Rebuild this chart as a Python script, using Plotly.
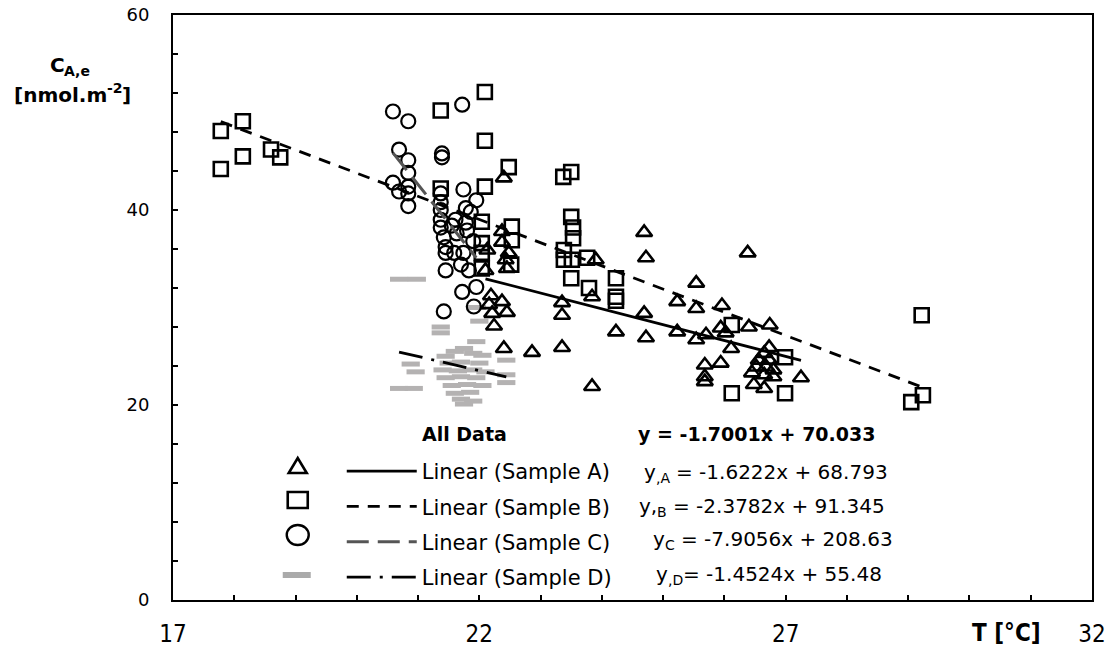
import plotly.graph_objects as go

# ---------------- data ----------------
A_x = [22.40, 22.37, 22.37, 22.13, 22.48, 22.45, 22.10, 22.43, 22.19, 22.37, 22.16, 22.45,
       22.21, 22.24, 22.40, 22.86, 23.35, 23.35, 23.35, 23.84, 23.90, 23.84, 24.23, 24.69,
       24.72, 24.69, 24.72, 25.54, 25.23, 25.54, 25.96, 25.23, 25.54, 25.70, 25.94, 26.02,
       26.40, 26.74, 26.38, 26.11, 25.94, 25.68, 25.68, 25.68, 26.73, 26.65, 26.56, 26.73,
       26.52, 26.68, 26.80, 26.45, 26.65, 26.80, 26.48, 26.65, 27.25]
A_y = [43.3, 37.8, 36.7, 35.9, 35.6, 34.0, 33.8, 34.9, 31.2, 30.6, 30.3, 29.5,
       29.4, 28.1, 25.8, 25.4, 25.9, 30.5, 29.2, 31.1, 34.9, 21.9, 27.5, 37.7,
       35.1, 29.4, 26.9, 32.5, 30.6, 29.9, 30.2, 27.5, 26.7, 27.2, 27.9, 27.4,
       28.0, 28.2, 35.6, 25.8, 24.3, 24.1, 22.9, 22.4, 25.9, 25.3, 24.6, 24.6,
       23.9, 23.9, 23.6, 23.3, 23.1, 22.9, 22.1, 21.7, 22.8]

B_x = [17.78, 18.14, 18.14, 17.78, 18.60, 18.75, 21.37, 22.09, 22.09, 22.48, 22.09, 21.37,
       23.37, 23.50, 23.50, 23.53, 23.53, 23.38, 23.38, 23.51, 23.76, 23.50, 23.79, 24.23,
       24.23, 24.23, 22.04, 22.53, 22.53, 22.04, 22.04, 22.52, 22.04, 26.12, 26.99, 26.12,
       26.99, 29.22, 29.24, 29.05]
B_y = [48.1, 49.1, 45.5, 44.2, 46.2, 45.4, 50.2, 52.1, 47.1, 44.4, 42.4, 42.2,
       43.4, 43.9, 39.3, 38.2, 37.1, 35.9, 34.9, 34.9, 35.1, 33.0, 32.0, 33.0,
       31.1, 30.7, 38.8, 38.3, 36.9, 36.6, 35.6, 34.4, 34.0, 28.2, 24.9, 21.2,
       21.2, 29.2, 21.0, 20.3]

C_x = [20.59, 20.84, 21.72, 20.69, 20.84, 20.84, 21.39, 21.39, 20.59, 20.69, 20.84, 20.84,
       20.84, 21.74, 21.37, 21.37, 21.37, 21.37, 21.37, 21.42, 21.45, 21.61, 21.78, 21.95,
       21.86, 21.78, 21.63, 21.80, 21.59, 21.74, 21.45, 21.45, 21.70, 21.42, 21.72, 21.91,
       21.95, 21.83, 21.90, 21.55]
C_y = [50.1, 49.1, 50.8, 46.2, 45.1, 43.8, 45.8, 45.4, 42.8, 41.9, 42.4, 41.7,
       40.4, 42.1, 41.7, 40.8, 40.0, 39.0, 38.2, 37.2, 36.2, 39.0, 40.2, 41.0,
       39.8, 38.7, 37.6, 37.9, 35.6, 35.6, 35.6, 33.8, 34.4, 29.6, 31.6, 30.1,
       32.1, 33.8, 36.8, 38.4]

D_x = [20.69, 20.98, 21.37, 21.37, 21.96, 22.00, 21.95, 21.75, 21.45, 21.60, 21.90, 22.05,
       20.88, 20.96, 20.69, 20.93, 22.44, 22.44, 22.44, 21.50, 21.70, 22.00, 21.40, 21.65,
       21.90, 22.10, 21.45, 21.70, 21.95, 21.55, 21.80, 22.05, 21.60, 21.85, 21.70, 21.90,
       21.75]
D_y = [32.9, 32.9, 28.0, 27.4, 30.0, 28.6, 26.5, 25.8, 25.0, 25.5, 25.3, 25.1,
       24.2, 23.4, 21.7, 21.7, 24.6, 23.1, 22.3, 24.3, 24.4, 24.3, 23.6, 23.5,
       23.6, 23.4, 22.8, 22.9, 22.8, 22.0, 22.1, 22.0, 21.2, 21.3, 20.6, 20.4,
       20.1]

samples = ["A", "B", "C", "D"]
slopes = [-1.6222, -2.3782, -7.9056, -1.4524]
intercepts = [68.793, 91.345, 208.63, 55.48]
all_slope = -1.7001
all_intercept = 70.033

x_ticks = [17, 22, 27, 32]
y_ticks = [0, 20, 40, 60]

# ---------------- styles ----------------
GRAY_D = "#b4b2b2"
marker_styles = [
    dict(symbol="triangle-up-open", size=14, color="black", line=dict(width=2.6, color="black")),
    dict(symbol="square-open", size=14, color="black", line=dict(width=2.6, color="black")),
    dict(symbol="circle-open", size=14, color="black", line=dict(width=2.2, color="black")),
    dict(symbol="line-ew-open", size=13, color=GRAY_D, line=dict(width=5, color=GRAY_D)),
]
line_styles = [
    dict(color="black", width=2.8, dash="solid"),
    dict(color="black", width=2.8, dash="12px,9px"),
    dict(color="#555555", width=3, dash="22px,9px"),
    dict(color="black", width=2.8, dash="24px,9px,3px,9px"),
]

xs_all = [A_x, B_x, C_x, D_x]
ys_all = [A_y, B_y, C_y, D_y]
draw_order = [3, 2, 1, 0]

fig = go.Figure()

# data markers
for i in draw_order:
    fig.add_trace(go.Scatter(x=xs_all[i], y=ys_all[i], mode="markers",
                             marker=marker_styles[i], showlegend=False,
                             name="Sample " + samples[i]))

# trend lines (from the fitted equations, spanning each sample's x range)
for i in range(4):
    x0, x1 = min(xs_all[i]), max(xs_all[i])
    fig.add_trace(go.Scatter(x=[x0, x1],
                             y=[slopes[i] * x0 + intercepts[i], slopes[i] * x1 + intercepts[i]],
                             mode="lines", line=line_styles[i],
                             name="Linear (Sample " + samples[i] + ")",
                             legendgroup="l" + samples[i],
                             showlegend=True))

PW = 918.7
PH = 585.0
L0, T0 = 173.3, 15.0


def px(xp):
    return (xp - L0) / PW


def py(yp):
    return (T0 + PH - yp) / PH


FONT = "DejaVu Sans"
NARROW = "Liberation Sans Narrow, DejaVu Sans Condensed, sans-serif"

fig.update_layout(
    width=1110, height=652,
    margin=dict(l=173, r=18, t=15, b=52, autoexpand=False),
    plot_bgcolor="white", paper_bgcolor="white",
    font=dict(family=FONT, color="black"),
    showlegend=True,
    legend=dict(x=px(342), y=py(451), xanchor="left", yanchor="top",
                bgcolor="rgba(0,0,0,0)", font=dict(family=FONT, size=21, color="black"),
                tracegroupgap=5, itemwidth=70),
    xaxis=dict(range=[17, 32], tickvals=x_ticks, ticktext=[str(v) for v in x_ticks],
               ticks="inside", ticklen=5, tickwidth=1.5, tickcolor="black",
               showline=True, linecolor="black", linewidth=1.8, mirror=True,
               showgrid=False, zeroline=False, automargin=False,
               minor=dict(dtick=1, tick0=17, ticks="inside", ticklen=5, tickwidth=1.5,
                          tickcolor="black", showgrid=False),
               tickfont=dict(family=NARROW, size=24, color="black"),
               ticklabelstandoff=11),
    yaxis=dict(range=[0, 60], tickvals=y_ticks, ticktext=[str(v) for v in y_ticks],
               ticks="inside", ticklen=5, tickwidth=1.5, tickcolor="black",
               showline=True, linecolor="black", linewidth=1.8, mirror=True,
               showgrid=False, zeroline=False, automargin=False,
               minor=dict(dtick=4, tick0=0, ticks="inside", ticklen=5, tickwidth=1.5,
                          tickcolor="black", showgrid=False),
               tickfont=dict(family=FONT, size=18, color="black"),
               ticklabelstandoff=18),
)


def fmt(v, nd):
    return ("%." + str(nd) + "f") % v


# DejaVu Sans advance widths (em) for placing sub/superscript pieces side by side
W_REG = {" ": 0.318, ",": 0.318, ".": 0.318, "-": 0.361, "=": 0.838, "+": 0.838,
         "x": 0.592, "y": 0.592, "A": 0.684, "B": 0.686, "C": 0.698, "D": 0.770}
W_BOLD = {" ": 0.348, ",": 0.380, ".": 0.380, "-": 0.415, "A": 0.774, "C": 0.734,
          "e": 0.678, "n": 0.712, "m": 1.042, "o": 0.687, "l": 0.343, "[": 0.457,
          "]": 0.457}


def text_w(s, size, bold=False):
    table = W_BOLD if bold else W_REG
    dig = 0.696 if bold else 0.636
    return sum((dig if ch.isdigit() else table.get(ch, 0.6)) for ch in s) * size


annos = []


def piece(text, xl, yc, size, bold=False, family=FONT):
    annos.append(dict(text=("<b>" + text + "</b>") if bold else text,
                      x=px(xl), y=py(yc), xref="paper", yref="paper",
                      xanchor="left", yanchor="middle", showarrow=False, borderpad=0,
                      font=dict(family=family, size=size, color="black")))


def rich(parts, xl, yc, size, bold=False):
    """parts: list of (text, kind) with kind 'n', 'sub' or 'sup'."""
    x = xl
    for text, kind in parts:
        if kind == "n":
            lead = len(text) - len(text.lstrip(" "))
            x += text_w(" " * lead, size, bold)
            t = text.strip(" ")
            piece(t, x, yc, size, bold)
            x += text_w(t, size, bold)
            trail = len(text) - len(text.rstrip(" "))
            x += text_w(" " * trail, size, bold)
        else:
            s = round(size * 0.7)
            dy = 6 if kind == "sub" else -7
            piece(text, x, yc + dy, s, bold)
            x += text_w(text, s, bold)


piece("All Data", 421, 434, 19, bold=True)
piece("y = " + fmt(all_slope, 4) + "x + " + fmt(all_intercept, 3), 637, 434, 19, bold=True)

eq_parts = [
    [("y", "n"), (",A", "sub"), (" = " + fmt(slopes[0], 4) + "x + " + fmt(intercepts[0], 3), "n")],
    [("y,", "n"), ("B", "sub"), (" = " + fmt(slopes[1], 4) + "x + " + fmt(intercepts[1], 3), "n")],
    [("y", "n"), ("C", "sub"), (" = " + fmt(slopes[2], 4) + "x + " + fmt(intercepts[2], 2), "n")],
    [("y", "n"), (",D", "sub"), ("= " + fmt(slopes[3], 4) + "x + " + fmt(intercepts[3], 2), "n")],
]
eq_pos = [(643, 472), (638, 506), (652, 539), (655, 574)]
for parts, (ex, ey) in zip(eq_parts, eq_pos):
    rich(parts, ex, ey, 20)

# y-axis title (two lines)
rich([("C", "n"), ("A,e", "sub")], 49, 65, 20, bold=True)
rich([("[nmol.m", "n"), ("-2", "sup"), ("]", "n")], 13, 95, 20, bold=True)

# x-axis title
annos.append(dict(text="<b>T [°C]</b>", x=px(1007), y=py(633), xref="paper", yref="paper",
                  xanchor="center", yanchor="middle", showarrow=False,
                  font=dict(family=NARROW, size=24, color="black")))
fig.update_layout(annotations=annos)

# legend key glyphs (symbol column of the legend box), in paper coordinates
GX = 298
shapes = []
tri_cy = 466
shapes.append(dict(type="path", xref="paper", yref="paper",
                   path="M {} {} L {} {} L {} {} Z".format(
                       px(GX - 9), py(tri_cy + 7), px(GX + 9), py(tri_cy + 7), px(GX), py(tri_cy - 8)),
                   line=dict(color="black", width=2.6), fillcolor="rgba(0,0,0,0)"))
sq_cy = 500
shapes.append(dict(type="rect", xref="paper", yref="paper",
                   x0=px(GX - 10), x1=px(GX + 10), y0=py(sq_cy + 8), y1=py(sq_cy - 8),
                   line=dict(color="black", width=2.6), fillcolor="rgba(0,0,0,0)"))
ci_cy = 535
shapes.append(dict(type="circle", xref="paper", yref="paper",
                   x0=px(GX - 11), x1=px(GX + 11), y0=py(ci_cy + 10), y1=py(ci_cy - 10),
                   line=dict(color="black", width=2.4), fillcolor="rgba(0,0,0,0)"))
bar_cy = 575
shapes.append(dict(type="line", xref="paper", yref="paper",
                   x0=px(GX - 15), x1=px(GX + 13), y0=py(bar_cy), y1=py(bar_cy),
                   line=dict(color="#aaaaaa", width=6)))
fig.update_layout(shapes=shapes)

fig.write_html("out.html")
